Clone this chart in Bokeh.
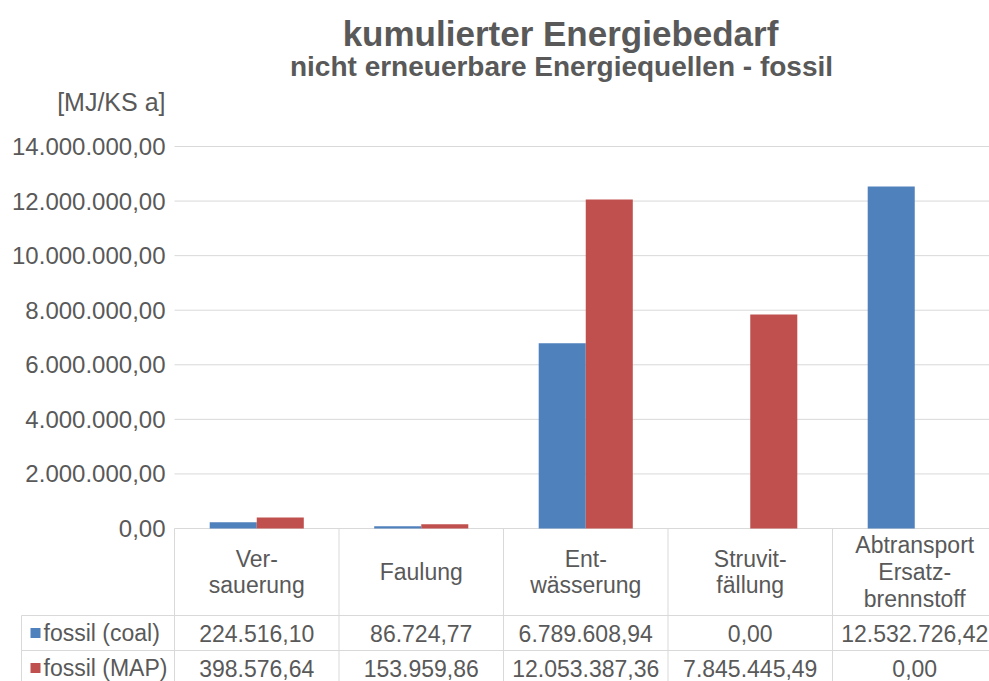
import numpy as np
from bokeh.plotting import figure
from bokeh.models import Range1d
from bokeh.embed import file_html
from bokeh.resources import INLINE
from bokeh.core.properties import value

# ---------------- data ----------------
categories = ["Ver-\nsauerung", "Faulung", "Ent-\nwässerung", "Struvit-\nfällung",
              "Abtransport\nErsatz-\nbrennstoff"]
series_names = ["fossil (coal)", "fossil (MAP)"]
coal = [224516.10, 86724.77, 6789608.94, 0.00, 12532726.42]
map_ = [398576.64, 153959.86, 12053387.36, 7845445.49, 0.00]
y_ticks = [0, 2e6, 4e6, 6e6, 8e6, 10e6, 12e6, 14e6]
y_tick_labels = ["0,00", "2.000.000,00", "4.000.000,00", "6.000.000,00",
                 "8.000.000,00", "10.000.000,00", "12.000.000,00", "14.000.000,00"]
title_text = "kumulierter Energiebedarf"
subtitle_text = "nicht erneuerbare Energiequellen - fossil"
unit_text = "[MJ/KS a]"

BLUE = "#4f81bd"
RED = "#c0504d"
GREY = "#595959"
LINE = "#d9d9d9"
FONT = "Liberation Sans"


def de(v):
    s = f"{v:,.2f}"
    return s.replace(",", "X").replace(".", ",").replace("X", ".")


# ---------------- layout (page pixels) ----------------
W, H = 989, 681
FRAME_L = 174
COL_W = 164.5
ZERO_Y = 528
TOP_Y = 146
PPU = (ZERO_Y - TOP_Y) / 14e6


def xd(px):
    return (px - FRAME_L) / COL_W


def yd(py):
    return (ZERO_Y - py) / PPU


n = len(categories)
pos = np.arange(n) + 0.5
bw = 0.286

p = figure(width=W, height=H, output_backend="svg", toolbar_location=None,
           x_range=Range1d(xd(0), xd(W)), y_range=Range1d(yd(H), yd(0)),
           min_border=0, min_border_left=0, min_border_right=0,
           min_border_top=0, min_border_bottom=0)
p.outline_line_color = None
p.axis.visible = False
p.grid.visible = False
p.background_fill_color = "white"

# gridlines (value axis)
p.segment(x0=[0] * len(y_ticks), x1=[n] * len(y_ticks), y0=y_ticks, y1=y_ticks,
          line_color=LINE, line_width=1)

# value-axis tick labels
p.text(x=[xd(165)] * len(y_ticks), y=y_ticks, text=y_tick_labels, text_font=value(FONT),
       text_font_size="24px", text_color=GREY, text_align="right", text_baseline="middle")

# bars
p.vbar(x=pos - bw / 2, top=coal, width=bw, fill_color=BLUE, line_color=None)
p.vbar(x=pos + bw / 2, top=map_, width=bw, fill_color=RED, line_color=None)

# titles
p.text(x=[xd(560)], y=[yd(33)], text=[title_text], text_font=value(FONT),
       text_font_style="bold", text_font_size="35px", text_color=GREY,
       text_align="center", text_baseline="middle")
p.text(x=[xd(561)], y=[yd(66)], text=[subtitle_text], text_font=value(FONT),
       text_font_style="bold", text_font_size="28px", text_color=GREY,
       text_align="center", text_baseline="middle")
p.text(x=[xd(165)], y=[yd(101)], text=[unit_text], text_font=value(FONT),
       text_font_size="25px", text_color=GREY,
       text_align="right", text_baseline="middle")

# ---------------- data table ----------------
vx = np.arange(n + 1)
row_lines = [615, 650]
p.segment(x0=[xd(21)] * 2, x1=[n] * 2, y0=[yd(v) for v in row_lines],
          y1=[yd(v) for v in row_lines], line_color=LINE, line_width=1)
p.segment(x0=vx, x1=vx, y0=[0] * len(vx), y1=[yd(H + 5)] * len(vx),
          line_color=LINE, line_width=1)
p.segment(x0=[xd(21)], x1=[xd(21)], y0=[yd(615)], y1=[yd(H + 5)],
          line_color=LINE, line_width=1)

p.text(x=pos, y=[yd(571.5)] * n, text=categories, text_font=value(FONT),
       text_font_size="23px", text_color=GREY, text_align="center",
       text_baseline="middle", text_line_height=1.03)

row_y = [yd(632.5), yd(667.5)]
for vals, ry in zip([coal, map_], row_y):
    p.text(x=pos, y=[ry] * n, text=[de(v) for v in vals], text_font=value(FONT),
           text_font_size="23px", text_color=GREY, text_align="center",
           text_baseline="middle")

p.scatter(x=[xd(35)] * 2, y=row_y, marker="square", size=10,
          fill_color=[BLUE, RED], line_color=None)
p.text(x=[xd(43)] * 2, y=row_y, text=series_names, text_font=value(FONT),
       text_font_size="23px", text_color=GREY, text_align="left",
       text_baseline="middle")

open("out.html", "w").write(file_html(p, INLINE))
